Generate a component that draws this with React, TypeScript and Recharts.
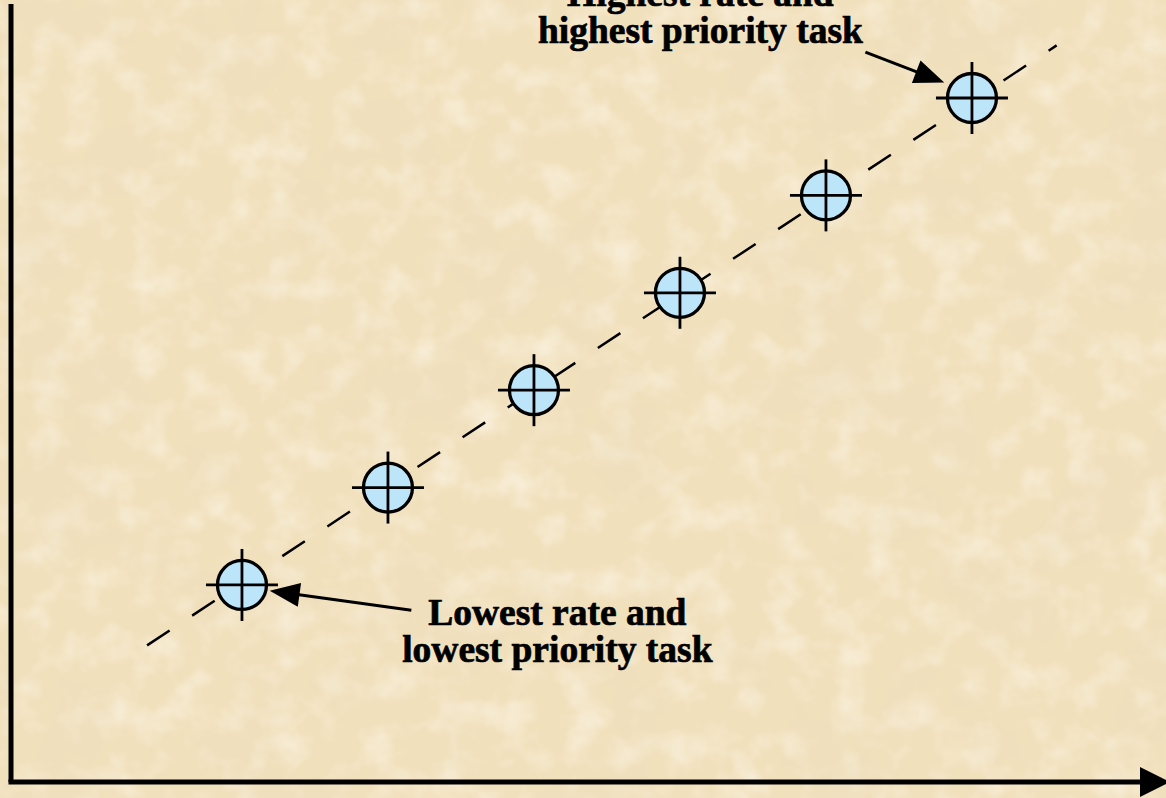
import { ScatterChart, Scatter, XAxis, YAxis, ReferenceLine, ReferenceDot } from 'recharts';

// task rate (x) vs priority (y), one point per task
const taskRate = [1, 2, 3, 4, 5, 6];
const taskPriority = [1, 2, 3, 4, 5, 6];

// dashed trend through the tasks: start, end
const trendRate = [0.35, 6.58];
const trendPriority = [0.38, 6.54];

// callouts: text lines, anchor (first baseline), arrow tail -> tip
const highLabel = ['Highest rate and', 'highest priority task'];
const highLabelAt = [4.14, 6.94];
const highArrowRate = [5.27, 5.81];
const highArrowPriority = [6.47, 6.16];

const lowLabel = ['Lowest rate and', 'lowest priority task'];
const lowLabelAt = [3.16, 0.59];
const lowArrowRate = [2.16, 1.19];
const lowArrowPriority = [0.74, 0.94];

const xDomain: [number, number] = [-0.582, 7.151];
const yDomain: [number, number] = [-1.023, 6.965];

const W = 1166;
const H = 798;

const tasks = taskRate.map((r, i) => ({ rate: r, priority: taskPriority[i] }));
const trend = trendRate.map((r, i) => ({ rate: r, priority: trendPriority[i] }));

const TaskMarker = (props: any) => {
    const { cx, cy } = props;
    if (cx == null || cy == null) return <g />;
    return (
        <g>
            <circle cx={cx} cy={cy} r={24.5} fill="#bde5fa" stroke="#000" strokeWidth={3.3} />
            <line x1={cx - 36} y1={cy} x2={cx + 36} y2={cy} stroke="#000" strokeWidth={2.8} />
            <line x1={cx} y1={cy - 36} x2={cx} y2={cy + 36} stroke="#000" strokeWidth={2.8} />
        </g>
    );
};

const Arrow = (props: any) => {
    const { x1, y1, x2, y2 } = props;
    if (x1 == null) return <g />;
    const dx = x2 - x1;
    const dy = y2 - y1;
    const len = Math.sqrt(dx * dx + dy * dy);
    const ux = dx / len;
    const uy = dy / len;
    const bx = x2 - ux * 30;
    const by = y2 - uy * 30;
    const px = -uy * 12;
    const py = ux * 12;
    return (
        <g>
            <line x1={x1} y1={y1} x2={bx + ux * 4} y2={by + uy * 4} stroke="#000" strokeWidth={3} />
            <polygon points={`${x2},${y2} ${bx + px},${by + py} ${bx - px},${by - py}`} fill="#000" />
        </g>
    );
};

const callout = (lines: string[]) => (props: any) => {
    const { cx, cy } = props;
    if (cx == null) return <g />;
    return (
        <text
            x={cx}
            y={cy}
            textAnchor="middle"
            fontFamily="'Liberation Serif', 'Times New Roman', serif"
            fontWeight={700}
            fontSize={37.5}
            fill="#000"
            stroke="#000"
            strokeWidth={0.7}
        >
            {lines.map((t, i) => (
                <tspan key={t} x={cx} dy={i === 0 ? 0 : 37}>{t}</tspan>
            ))}
        </text>
    );
};

export default function App() {
    return (
        <div style={{ position: 'absolute', left: 0, top: 0, width: W, height: H, overflow: 'hidden' }}>
            <svg width={W} height={H} style={{ position: 'absolute', left: 0, top: 0 }}>
                <defs>
                    <filter id="paper" x="0" y="0" width="100%" height="100%">
                        <feTurbulence type="fractalNoise" baseFrequency="0.009" numOctaves={4} seed={7} />
                        <feColorMatrix type="matrix" values="0 0 0 0 0.84  0 0 0 0 0.72  0 0 0 0 0.50  1.3 0 0 0 -0.6" />
                    </filter>
                    <filter id="paperLight" x="0" y="0" width="100%" height="100%">
                        <feTurbulence type="fractalNoise" baseFrequency="0.03" numOctaves={3} seed={3} />
                        <feColorMatrix type="matrix" values="0 0 0 0 1  0 0 0 0 0.98  0 0 0 0 0.93  0 1.0 0 0 -0.45" />
                    </filter>
                    <marker id="axisHead" viewBox="0 0 30 30" refX={0} refY={15} markerWidth={30} markerHeight={30} markerUnits="userSpaceOnUse" orient="auto">
                        <path d="M0,0 L30,15 L0,30 Z" fill="#000" />
                    </marker>
                </defs>
                <rect width={W} height={H} fill="#f1e0bc" />
                <rect width={W} height={H} filter="url(#paperLight)" />
                <rect width={W} height={H} filter="url(#paper)" />
            </svg>
            <div style={{ position: 'absolute', left: 0, top: 0 }}>
                <ScatterChart width={W} height={H} margin={{ top: 4, right: 26, bottom: 15, left: 10 }}>
                    <XAxis
                        type="number"
                        dataKey="rate"
                        domain={xDomain}
                        allowDataOverflow
                        height={1}
                        tick={false}
                        tickLine={false}
                        axisLine={{ stroke: '#000', strokeWidth: 5, strokeLinecap: 'square', markerEnd: 'url(#axisHead)' }}
                    />
                    <YAxis
                        type="number"
                        dataKey="priority"
                        domain={yDomain}
                        allowDataOverflow
                        width={1}
                        tick={false}
                        tickLine={false}
                        axisLine={{ stroke: '#000', strokeWidth: 5 }}
                    />
                    <Scatter
                        data={trend}
                        line={{ stroke: '#000', strokeWidth: 2.5, strokeDasharray: '27 27' }}
                        shape={() => <g />}
                        isAnimationActive={false}
                    />
                    <Scatter data={tasks} shape={TaskMarker} isAnimationActive={false} />
                    <ReferenceLine
                        segment={[
                            { x: highArrowRate[0], y: highArrowPriority[0] },
                            { x: highArrowRate[1], y: highArrowPriority[1] },
                        ]}
                        shape={Arrow}
                        ifOverflow="visible"
                    />
                    <ReferenceLine
                        segment={[
                            { x: lowArrowRate[0], y: lowArrowPriority[0] },
                            { x: lowArrowRate[1], y: lowArrowPriority[1] },
                        ]}
                        shape={Arrow}
                        ifOverflow="visible"
                    />
                    <ReferenceDot x={highLabelAt[0]} y={highLabelAt[1]} r={0} shape={callout(highLabel)} ifOverflow="visible" />
                    <ReferenceDot x={lowLabelAt[0]} y={lowLabelAt[1]} r={0} shape={callout(lowLabel)} ifOverflow="visible" />
                </ScatterChart>
            </div>
        </div>
    );
}
